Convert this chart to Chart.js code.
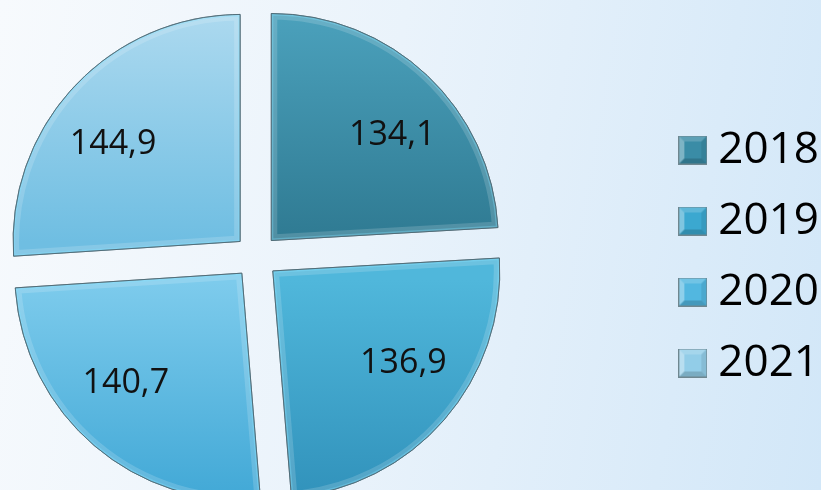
<!DOCTYPE html>
<html lang="ru">
<head>
  <meta charset="UTF-8">
  <title>2018-2021</title>
  <script src="https://cdn.jsdelivr.net/npm/chart.js"></script>
  <style>
    html, body { margin: 0; padding: 0; width: 821px; height: 490px; overflow: hidden; }
    body { background: linear-gradient(100deg, #f7fafd 0%, #eaf3fb 45%, #d2e7f8 100%); position: relative; }
    .chart-container { position: absolute; left: -150px; top: 0; width: 979px; height: 490px; }
  </style>
</head>
<body>
  <div class="chart-container">
    <canvas id="pie-chart"></canvas>
  </div>
  <script>
    const years = ['2018', '2019', '2020', '2021'];
    const values = [134.1, 136.9, 140.7, 144.9];

    // colours of each slice, top and bottom of the gradient
    const topColors = ['#4ba1bc', '#50b7db', '#7dcbec', '#acd9ef'];
    const bottomColors = ['#2f7a92', '#3192bb', '#41a8d6', '#6fbee2'];
    const legendColors = ['#3a8ca6', '#3ba8d0', '#52b7e0', '#92cde8'];

    const pieRadius = 227;

    function sliceFill(context) {
      const chart = context.chart;
      const area = chart.chartArea;
      const i = context.dataIndex;
      if (!area) return legendColors[i];
      const cy = (area.top + area.bottom) / 2;
      const g = chart.ctx.createLinearGradient(0, cy - pieRadius, 0, cy + pieRadius);
      if (i === 0 || i === 3) {
        g.addColorStop(0, topColors[i]);
        g.addColorStop(0.5, bottomColors[i]);
        g.addColorStop(1, bottomColors[i]);
      } else {
        g.addColorStop(0, topColors[i]);
        g.addColorStop(0.52, topColors[i]);
        g.addColorStop(1, bottomColors[i]);
      }
      return g;
    }

    // small bevelled squares for the legend
    function swatch(color) {
      const c = document.createElement('canvas');
      c.width = 29; c.height = 29;
      const x = c.getContext('2d');
      x.fillStyle = color;
      x.fillRect(0, 0, 29, 29);
      x.fillStyle = 'rgba(255,255,255,0.35)';
      x.beginPath(); x.moveTo(0, 0); x.lineTo(6, 6); x.lineTo(6, 23); x.lineTo(0, 29); x.fill();
      x.fillStyle = 'rgba(255,255,255,0.18)';
      x.beginPath(); x.moveTo(0, 0); x.lineTo(29, 0); x.lineTo(23, 6); x.lineTo(6, 6); x.fill();
      x.fillStyle = 'rgba(0,0,0,0.16)';
      x.beginPath(); x.moveTo(0, 29); x.lineTo(6, 23); x.lineTo(23, 23); x.lineTo(29, 29); x.fill();
      x.fillStyle = 'rgba(0,0,0,0.08)';
      x.beginPath(); x.moveTo(29, 0); x.lineTo(29, 29); x.lineTo(23, 23); x.lineTo(23, 6); x.fill();
      x.strokeStyle = '#6f8790';
      x.lineWidth = 1;
      x.strokeRect(0.5, 0.5, 28, 28);
      return c;
    }
    const swatches = legendColors.map(swatch);

    // bevel rim + value labels
    const bevelLabels = {
      id: 'bevelLabels',
      afterDatasetsDraw(chart) {
        const ctx = chart.ctx;
        const meta = chart.getDatasetMeta(0);
        meta.data.forEach((arc, i) => {
          const p = arc.getProps(['x', 'y', 'startAngle', 'endAngle', 'outerRadius'], true);
          const mid = (p.startAngle + p.endAngle) / 2;
          const shift = (arc.options.offset || 0) / 4;
          ctx.save();
          ctx.translate(Math.cos(mid) * shift, Math.sin(mid) * shift);
          ctx.beginPath();
          ctx.moveTo(p.x, p.y);
          ctx.arc(p.x, p.y, p.outerRadius, p.startAngle, p.endAngle);
          ctx.closePath();
          ctx.save();
          ctx.clip();
          ctx.lineWidth = 12;
          ctx.strokeStyle = 'rgba(255,255,255,0.16)';
          ctx.stroke();
          ctx.lineWidth = 4;
          ctx.strokeStyle = 'rgba(130,225,255,0.35)';
          ctx.stroke();
          ctx.restore();
          ctx.lineWidth = 1;
          ctx.strokeStyle = 'rgba(70,95,105,0.75)';
          ctx.stroke();

          const a = mid - 0.1 * Math.sin(2 * mid);
          const r = p.outerRadius * 0.705;
          ctx.fillStyle = '#111';
          ctx.font = '34px "Open Sans"';
          ctx.textAlign = 'center';
          ctx.textBaseline = 'middle';
          ctx.fillText(values[i].toFixed(1).replace('.', ','), p.x + Math.cos(a) * r, p.y + Math.sin(a) * r);
          ctx.restore();
        });
      }
    };

    new Chart(document.getElementById('pie-chart'), {
      type: 'pie',
      data: {
        labels: years,
        datasets: [{
          data: values,
          backgroundColor: sliceFill,
          borderColor: 'rgba(70,95,105,0.75)',
          borderWidth: 1,
          offset: 88,
          hoverOffset: 88,
          clip: false
        }]
      },
      options: {
        responsive: true,
        maintainAspectRatio: false,
        animation: false,
        events: [],
        radius: pieRadius,
        layout: { padding: { top: 23, bottom: 0 } },
        plugins: {
          tooltip: { enabled: false },
          legend: {
            position: 'right',
            labels: {
              font: { family: 'Open Sans', size: 44 },
              color: '#111',
              usePointStyle: true,
              pointStyleWidth: 7,
              boxHeight: 29,
              padding: 27,
              generateLabels: () => years.map((y, i) => ({
                text: y,
                fillStyle: legendColors[i],
                strokeStyle: '#6f8790',
                lineWidth: 1,
                pointStyle: swatches[i],
                hidden: false,
                index: i
              }))
            }
          }
        }
      },
      plugins: [bevelLabels]
    });
  </script>
</body>
</html>
